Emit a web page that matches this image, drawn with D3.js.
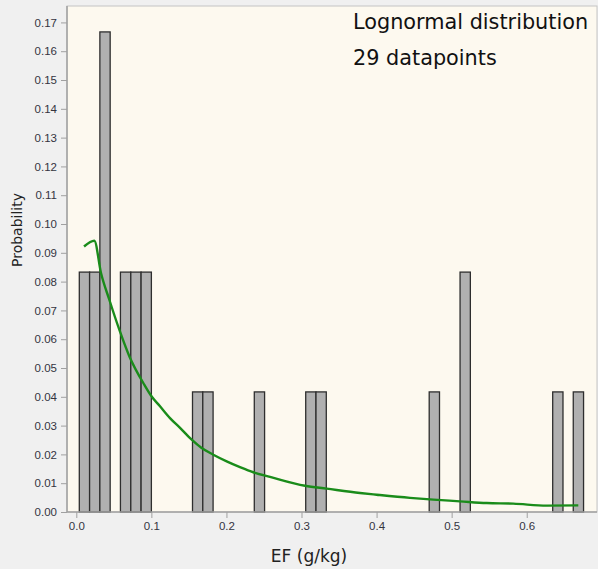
<!DOCTYPE html>
<html>
<head>
<meta charset="utf-8">
<script src="https://cdn.jsdelivr.net/npm/d3@7"></script>
<style>
    html, body { margin: 0; padding: 0; background: #f0f0f0; }
    svg { display: block; }
</style>
</head>
<body>
<div id="chart"></div>
<script>
// histogram bins: lower edge (g/kg) and probability
const binWidth = 0.01371;
const binStarts = [0.0040, 0.0177, 0.0314, 0.0588, 0.0726, 0.0863, 0.1548, 0.1685,
    0.2371, 0.3056, 0.3193, 0.4701, 0.5112, 0.6346, 0.6620];
const binProbs = [0.0833, 0.0833, 0.1667, 0.0833, 0.0833, 0.0833, 0.0417, 0.0417,
    0.0417, 0.0417, 0.0417, 0.0417, 0.0833, 0.0417, 0.0417];

// fitted lognormal curve
const fitX = [0.0103, 0.0240, 0.0329, 0.0440, 0.0573, 0.0706, 0.0906, 0.1004, 0.1115, 0.1248,
    0.1382, 0.1537, 0.1670, 0.1825, 0.2003, 0.2180, 0.2358, 0.2580, 0.3047, 0.3336,
    0.3779, 0.4002, 0.4445, 0.4756, 0.5111, 0.5467, 0.5821, 0.6266, 0.6687];
const fitY = [0.0922, 0.0942, 0.0830, 0.0737, 0.0633, 0.0541, 0.0442, 0.0401, 0.0367, 0.0326,
    0.0292, 0.0251, 0.0222, 0.0199, 0.0176, 0.0156, 0.0138, 0.0122, 0.0091, 0.0081,
    0.0066, 0.0060, 0.0049, 0.0043, 0.0037, 0.0031, 0.0029, 0.0022, 0.0023];

const xTicks = [0, 0.1, 0.2, 0.3, 0.4, 0.5, 0.6];
const yTicks = d3.range(0, 18).map(i => i / 100);

const width = 598, height = 569;
const mLeft = 67, mRight = 597, mTop = 6, mBottom = 512;

const svg = d3.select("#chart").append("svg")
    .attr("width", width)
    .attr("height", height);

const x = d3.scaleLinear().domain([-0.01239, 0.69362]).range([mLeft, mRight]);
const y = d3.scaleLinear().domain([0, 0.1757]).range([mBottom, mTop]);

// plot background
svg.append("rect")
    .attr("x", mLeft).attr("y", mTop)
    .attr("width", mRight - mLeft).attr("height", mBottom - mTop)
    .attr("fill", "#fdf9ef")
    .attr("stroke", "#c4c4c4");

// bars
svg.append("g")
    .selectAll("rect")
    .data(binStarts)
    .enter().append("rect")
    .attr("x", d => x(d))
    .attr("y", (d, i) => y(binProbs[i]))
    .attr("width", d => x(d + binWidth) - x(d))
    .attr("height", (d, i) => y(0) - y(binProbs[i]))
    .attr("fill", "#b0b0b0")
    .attr("stroke", "#2e2e2e")
    .attr("stroke-width", 1.3);

// fitted curve
const line = d3.line()
    .x(d => x(d[0]))
    .y(d => y(d[1]))
    .curve(d3.curveMonotoneX);

svg.append("path")
    .datum(fitX.map((v, i) => [v, fitY[i]]))
    .attr("d", line)
    .attr("fill", "none")
    .attr("stroke", "#1a8c1a")
    .attr("stroke-width", 2.4);

// axes
const xAxis = svg.append("g")
    .attr("transform", `translate(0,${mBottom})`)
    .call(d3.axisBottom(x).tickValues(xTicks).tickFormat(d3.format(".1f"))
        .tickSizeOuter(0).tickSize(6).tickPadding(4));

const yAxis = svg.append("g")
    .attr("transform", `translate(${mLeft},0)`)
    .call(d3.axisLeft(y).tickValues(yTicks).tickFormat(d3.format(".2f"))
        .tickSizeOuter(0).tickSize(6).tickPadding(4));

[xAxis, yAxis].forEach(g => {
    g.select(".domain").attr("stroke", "#a0a0a0").attr("stroke-width", 1.5);
    g.selectAll(".tick line").attr("stroke", "#a0a0a0");
    g.selectAll(".tick text")
        .attr("fill", "#34343f")
        .style("font-family", "'Liberation Sans', Arial, sans-serif")
        .style("font-size", "11.5px");
});
yAxis.select(".domain").attr("d", `M0,${mTop}V${mBottom}`);
xAxis.select(".domain").attr("d", `M${mLeft},0H${mRight}`);

// axis titles
svg.append("text")
    .attr("x", 309).attr("y", 562)
    .attr("text-anchor", "middle")
    .style("font-family", "'DejaVu Sans', sans-serif")
    .style("font-size", "17px")
    .attr("fill", "#222")
    .text("EF (g/kg)");

svg.append("text")
    .attr("transform", "translate(22,230) rotate(-90)")
    .attr("text-anchor", "middle")
    .style("font-family", "'DejaVu Sans', sans-serif")
    .style("font-size", "14px")
    .attr("fill", "#222")
    .text("Probability");

// annotation
const note = svg.append("g")
    .style("font-family", "'DejaVu Sans', sans-serif")
    .style("font-size", "20.8px")
    .attr("fill", "#111");
note.append("text").attr("x", 353).attr("y", 29).text("Lognormal distribution");
note.append("text").attr("x", 353).attr("y", 65).text("29 datapoints");
</script>
</body>
</html>
